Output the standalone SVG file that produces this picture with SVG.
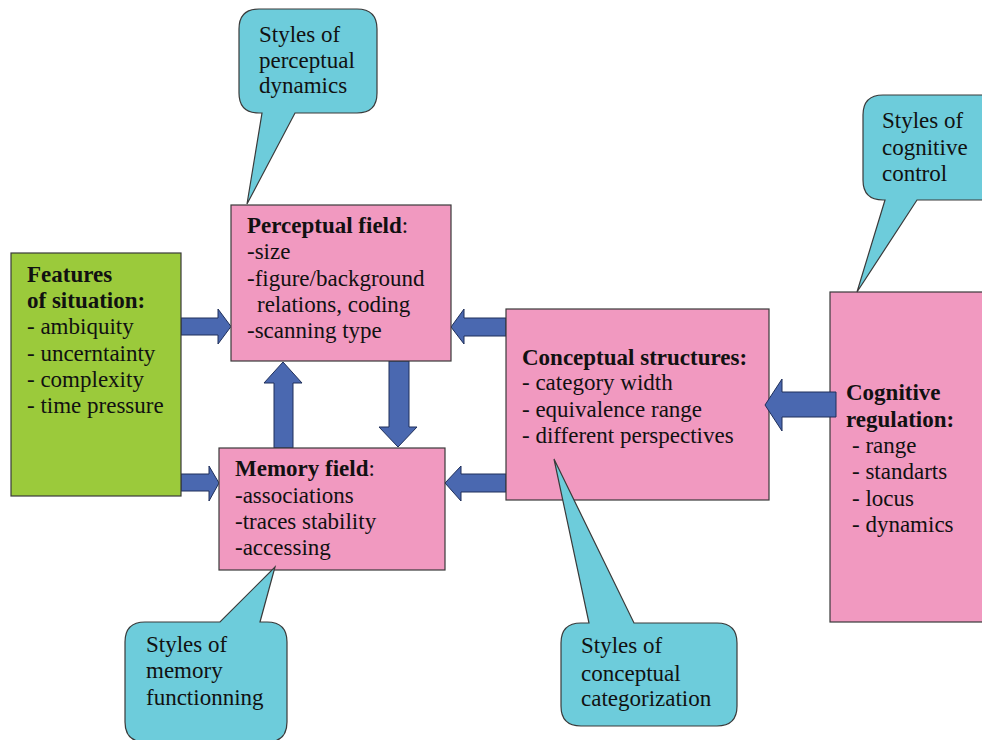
<svg xmlns="http://www.w3.org/2000/svg" width="982" height="740" viewBox="0 0 982 740">
<style>
  .box { stroke: #3a3a3a; stroke-width: 1.2; }
  .pink { fill: #F199C0; }
  .green { fill: #9BCA3B; }
  .call { fill: #6DCCDB; stroke: #3a3a3a; stroke-width: 1.2; }
  .arrow { fill: #4A68B0; stroke: #1f2f5a; stroke-width: 1; }
  text { font-family: 'Liberation Serif', 'Times New Roman', 'DejaVu Serif', serif; font-size: 23px; fill: #111; }
  .b { font-weight: bold; }
</style>
<rect width="982" height="740" fill="#ffffff"/>

<g id="connectors">
  <polygon class="arrow" points="181,318 218,318 218,309 231,326.5 218,344 218,335 181,335"/>
  <polygon class="arrow" points="181,474 209,474 209,466 219,483 209,501 209,491 181,491"/>
  <polygon class="arrow" points="274,448 274,383 264,383 283,362 302,383 293,383 293,448"/>
  <polygon class="arrow" points="389,361 409,361 409,427 417,427 398,447 379,427 389,427"/>
  <polygon class="arrow" points="506,318 464,318 464,309 451,327 464,344 464,336 506,336"/>
  <polygon class="arrow" points="506,474 461,474 461,466 445,483 461,501 461,492 506,492"/>
</g>

<g id="features">
  <rect class="box green" x="11" y="253" width="170" height="243"/>
  <text x="27" y="282" class="b">Features</text>
  <text x="27" y="308" class="b">of situation:</text>
  <text x="27" y="334">- ambiquity</text>
  <text x="27" y="361">- uncerntainty</text>
  <text x="27" y="387">- complexity</text>
  <text x="27" y="413">- time pressure</text>
</g>

<g id="perceptual">
  <rect class="box pink" x="231" y="205" width="220" height="156"/>
  <text x="247" y="233"><tspan class="b">Perceptual field</tspan>:</text>
  <text x="247" y="259">-size</text>
  <text x="247" y="286">-figure/background</text>
  <text x="257" y="312">relations, coding</text>
  <text x="247" y="338">-scanning type</text>
</g>

<g id="memory">
  <rect class="box pink" x="219" y="448" width="226" height="122"/>
  <text x="235" y="476"><tspan class="b">Memory field</tspan>:</text>
  <text x="235" y="503">-associations</text>
  <text x="235" y="529">-traces stability</text>
  <text x="235" y="555">-accessing</text>
</g>

<g id="conceptual">
  <rect class="box pink" x="506" y="309" width="263" height="191"/>
  <text x="522" y="365" class="b">Conceptual structures:</text>
  <text x="522" y="390">- category width</text>
  <text x="522" y="417">- equivalence range</text>
  <text x="522" y="443">- different perspectives</text>
</g>

<g id="regulation">
  <rect class="box pink" x="830" y="292" width="160" height="330"/>
  <text x="846" y="400" class="b">Cognitive</text>
  <text x="846" y="427" class="b">regulation:</text>
  <text x="852" y="453">- range</text>
  <text x="852" y="479">- standarts</text>
  <text x="852" y="506">- locus</text>
  <text x="852" y="532">- dynamics</text>
</g>

<g id="connectors-regulation">
  <polygon class="arrow" points="836,392 782,392 782,379 765,405 782,431 782,417 836,417"/>
</g>

<g id="callout-perceptual">
  <path class="call" d="M259,9 H357 Q377,9 377,29 V93 Q377,113 357,113 H295 L247,204 L262,113 H259 Q239,113 239,93 V29 Q239,9 259,9 Z"/>
  <text x="259" y="42">Styles of</text>
  <text x="259" y="68">perceptual</text>
  <text x="259" y="93">dynamics</text>
</g>

<g id="callout-control">
  <path class="call" d="M883,95 H985 V200 H917 L857,292 L885,200 H883 Q863,200 863,180 V115 Q863,95 883,95 Z"/>
  <text x="882" y="128">Styles of</text>
  <text x="882" y="155">cognitive</text>
  <text x="882" y="181">control</text>
</g>

<g id="callout-memory">
  <path class="call" d="M145,622 H220 L275,567 L260,622 H267 Q287,622 287,642 V722 Q287,742 267,742 H145 Q125,742 125,722 V642 Q125,622 145,622 Z"/>
  <text x="146" y="652">Styles of</text>
  <text x="146" y="678">memory</text>
  <text x="146" y="705">functionning</text>
</g>

<g id="callout-conceptual">
  <path class="call" d="M581,623 H589 L554,459 L634,623 H717 Q737,623 737,643 V706 Q737,726 717,726 H581 Q561,726 561,706 V643 Q561,623 581,623 Z"/>
  <text x="581" y="653">Styles of</text>
  <text x="581" y="681">conceptual</text>
  <text x="581" y="706">categorization</text>
</g>
</svg>
